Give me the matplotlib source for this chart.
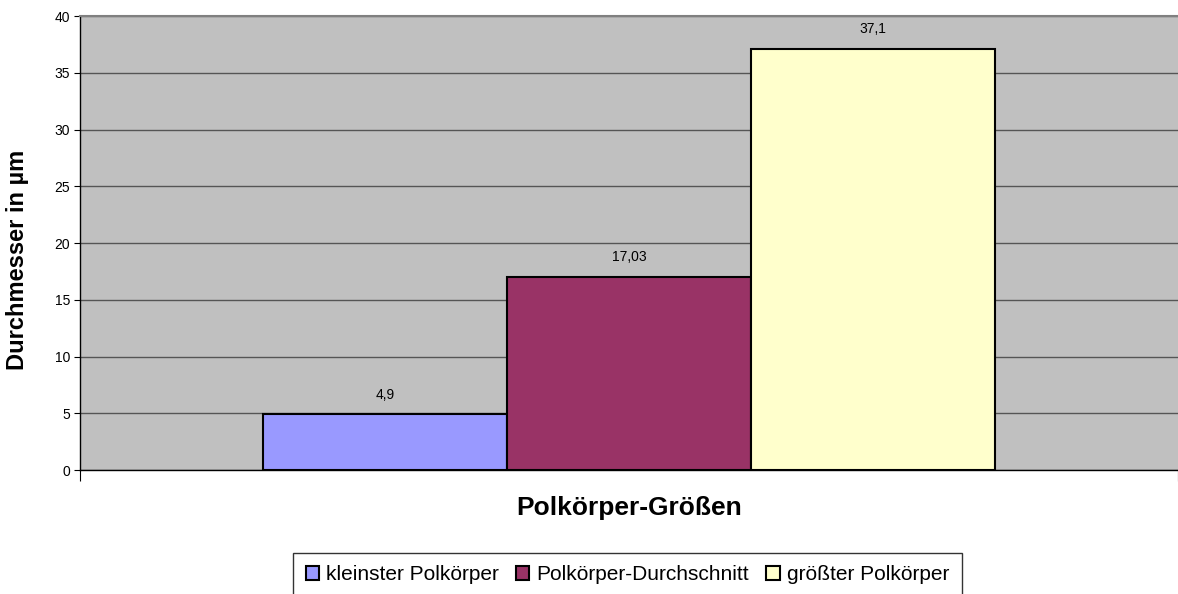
import numpy as np
import matplotlib.pyplot as plt

# data
series = ['kleinster Polkörper', 'Polkörper-Durchschnitt', 'größter Polkörper']
values = [4.9, 17.03, 37.1]
value_labels = ['4,9', '17,03', '37,1']
colors = ['#9999FF', '#993366', '#FFFFCC']

plt.rcParams['font.family'] = ['Liberation Sans', 'DejaVu Sans']

fig = plt.figure(figsize=(11.78, 5.94), dpi=100)
ax = fig.add_axes([80/1178, 124/594, 1098/1178, 454/594])
ax.set_facecolor('#C0C0C0')

w = 2/9
x0 = 1/6 + w/2
for i, (name, v, c) in enumerate(zip(series, values, colors)):
    xi = x0 + i*w
    ax.bar(xi, v, width=w, color=c, edgecolor='black', linewidth=1.5, label=name, zorder=3)
    ax.annotate(value_labels[i], (xi, v), xytext=(0, 14), textcoords='offset points',
                ha='center', va='center', fontsize=10)

ax.set_xlim(0, 1)
ax.set_ylim(0, 40)
ax.set_yticks(np.arange(0, 41, 5))
ax.set_xticks([0, 1])
ax.set_xticklabels([])
ax.yaxis.grid(True, color='#555555', linewidth=1, zorder=1)
ax.set_axisbelow(True)
ax.tick_params(axis='y', length=4, labelsize=10, pad=3)
ax.tick_params(axis='x', length=8)
for s in ['left', 'bottom']:
    ax.spines[s].set_color('black')
    ax.spines[s].set_linewidth(1)
ax.spines['top'].set_color('#808080')
ax.spines['top'].set_linewidth(1.5)
ax.spines['right'].set_visible(False)

ax.set_ylabel('Durchmesser in µm', fontsize=17, fontweight='bold')
ax.yaxis.set_label_coords(-0.0565, 0.4626)
ax.set_xlabel('Polkörper-Größen', fontsize=19, fontweight='bold')
ax.xaxis.set_label_coords(0.5, -0.084)
ax.xaxis.label.set_va('center')
ax.yaxis.label.set_va('center')

leg = fig.legend(loc='upper left', bbox_to_anchor=(293/1178, 1 - 553/594), ncol=3,
                 fontsize=15, frameon=True, fancybox=False, handlelength=0.65,
                 handleheight=0.65, handletextpad=0.35, columnspacing=0.8,
                 borderpad=0.6, borderaxespad=0)
leg.get_frame().set_edgecolor('black')
leg.get_frame().set_linewidth(1)

fig.savefig('out.png', dpi=100)
